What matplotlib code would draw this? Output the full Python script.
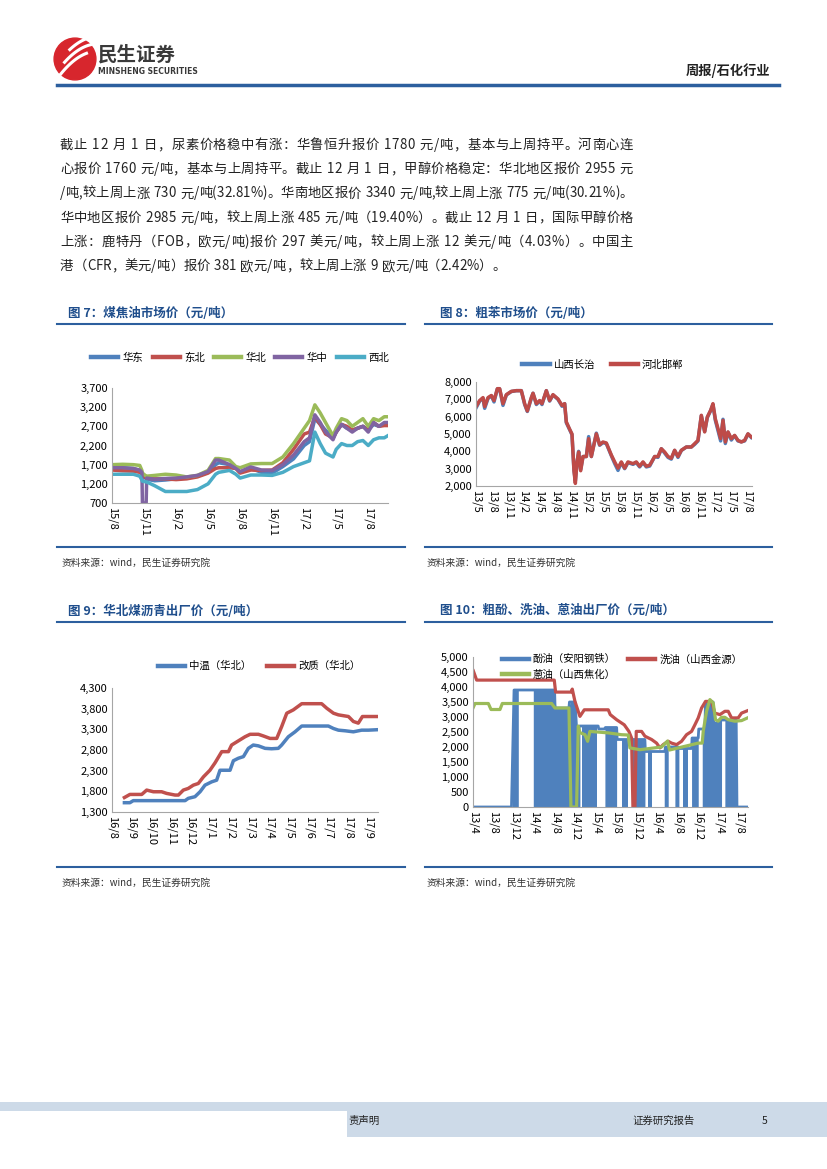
import numpy as np
import matplotlib.pyplot as plt
from matplotlib.patches import Rectangle, Circle
from matplotlib.lines import Line2D
from matplotlib.ticker import FuncFormatter

plt.rcParams['font.family'] = ['Noto Sans CJK SC', 'DejaVu Sans']

# ---------------- data ----------------
# chart 7: coal tar prices, x = months since 2015-08
t7 = [0, 1, 2, 2.6, 2.8, 2.85, 3.2, 3.25, 4, 5, 6, 7, 8, 9, 9.7, 10, 11, 11.6, 12, 13, 14, 15, 16, 17,
      18, 18.5, 19, 19.5, 20, 20.7, 21, 21.5, 22, 22.5, 23, 23.5, 24, 24.5, 25, 25.5, 25.8]
huadong = [1620, 1620, 1600, 1550, 1480, 1420, 1330, 1320, 1280, 1300, 1330, 1360, 1400, 1500, 1700, 1750, 1700,
           1620, 1500, 1600, 1500, 1480, 1650, 1850, 2200, 2300, 2900, 2750, 2600, 2400, 2550, 2750, 2650, 2600,
           2650, 2700, 2600, 2750, 2700, 2750, 2750]
dongbei = [1560, 1540, 1530, 1500, 1450, 1400, 1360, 1350, 1330, 1330, 1310, 1330, 1380, 1480, 1600, 1620, 1620,
           1600, 1480, 1560, 1550, 1560, 1750, 2100, 2500, 2550, 2950, 2750, 2500, 2400, 2550, 2750, 2700, 2600,
           2650, 2700, 2600, 2800, 2700, 2720, 2720]
huabei = [1700, 1710, 1700, 1680, 1550, 1480, 1400, 1400, 1420, 1450, 1430, 1380, 1420, 1550, 1860, 1860, 1820,
          1650, 1620, 1720, 1730, 1730, 1900, 2250, 2650, 2850, 3260, 3050, 2800, 2450, 2650, 2900, 2850, 2700,
          2800, 2900, 2700, 2900, 2850, 2950, 2950]
huazhong = [1620, 1620, 1600, 1560, 1500, 700, 700, 1350, 1320, 1340, 1350, 1380, 1420, 1520, 1820, 1820, 1700,
            1600, 1520, 1640, 1560, 1550, 1700, 1950, 2300, 2400, 3000, 2800, 2550, 2350, 2550, 2750, 2650, 2550,
            2650, 2700, 2550, 2800, 2700, 2800, 2800]
xibei = [1450, 1450, 1450, 1400, 1300, 1270, 1250, 1250, 1150, 1000, 1000, 1000, 1050, 1200, 1450, 1500, 1550,
         1450, 1350, 1430, 1430, 1420, 1500, 1650, 1750, 1800, 2550, 2250, 2000, 1900, 2100, 2250, 2200, 2200,
         2300, 2330, 2200, 2350, 2400, 2400, 2450]
ticks7 = [0, 3, 6, 9, 12, 15, 18, 21, 24]
labels7 = ['15/8', '15/11', '16/2', '16/5', '16/8', '16/11', '17/2', '17/5', '17/8']

# chart 8: crude benzene, x = months since 2013-05
t8 = [0, 0.69, 1.32, 1.63, 2.26, 2.89, 3.39, 4.02, 4.45, 5.08, 5.71, 6.65, 7.59, 8.53, 9.16, 9.66, 10.41,
      10.73, 11.36, 11.98, 12.42, 13.24, 13.86, 14.49, 15.43, 16.19, 16.69, 17.0, 17.63, 18.07, 18.44, 18.7,
      19.01, 19.32, 19.7, 20.14, 20.77, 21.2, 21.71, 22.65, 23.27, 23.9, 24.53, 25.47, 26.1, 26.73, 27.35,
      27.98, 28.61, 29.55, 30.18, 30.8, 31.43, 32.06, 32.69, 33.63, 34.25, 34.88, 35.51, 36.14, 36.76, 37.39,
      38.02, 38.65, 39.59, 40.53, 41.15, 41.78, 42.41, 43.04, 43.54, 44.17, 44.6, 45.04, 45.55, 46.05, 46.49,
      46.93, 47.43, 48.06, 48.68, 49.31, 49.94, 50.56, 51.19, 51.82]
hebei_handan = [6580, 6930, 7100, 6580, 7100, 7220, 6930, 7615, 7615, 6750, 7270, 7460, 7500, 7500, 6750, 6330,
                7100, 7350, 6750, 6930, 6750, 7500, 6930, 7270, 7020, 6650, 6750, 5700, 5270, 5000, 2880, 2150,
                3390, 3960, 2880, 3700, 3700, 4730, 3700, 5010, 4380, 4540, 4480, 3790, 3390, 3030, 3390, 3030,
                3390, 3290, 3390, 3140, 3390, 3140, 3200, 3700, 3700, 4150, 3960, 3700, 3600, 4060, 3700, 4060,
                4250, 4250, 4440, 4630, 6080, 5120, 5980, 6370, 6750, 5880, 5310, 4730, 5790, 4540, 5120, 4730,
                4920, 4630, 4540, 4630, 5010, 4830]
shanxi_changzhi = [6500, 6900, 7050, 6480, 7050, 7200, 6850, 7600, 7600, 6650, 7250, 7450, 7500, 7500, 6700, 6300,
                   7050, 7350, 6700, 6900, 6700, 7500, 6900, 7250, 7000, 6600, 6750, 5650, 5250, 4950, 2900, 2300,
                   3350, 4000, 2950, 3700, 3700, 4850, 3700, 5050, 4350, 4500, 4450, 3750, 3300, 2900, 3350, 3000,
                   3350, 3250, 3350, 3100, 3350, 3100, 3150, 3700, 3650, 4150, 3900, 3650, 3550, 4050, 3650, 4050,
                   4250, 4250, 4400, 4600, 6050, 5150, 5950, 6350, 6700, 5800, 5200, 4600, 5850, 4450, 5100, 4650,
                   4900, 4600, 4550, 4600, 5000, 4800]
ticks8 = [0, 3, 6, 9, 12, 15, 18, 21, 24, 27, 30, 33, 36, 39, 42, 45, 48, 51]
labels8 = ['13/5', '13/8', '13/11', '14/2', '14/5', '14/8', '14/11', '15/2', '15/5', '15/8', '15/11',
           '16/2', '16/5', '16/8', '16/11', '17/2', '17/5', '17/8']

# chart 9: coal pitch (north China), x = months since 2016-08
t9_mid = [0.63, 0.91, 1.08, 1.34, 3.71, 3.87, 4.21, 4.47, 4.72, 5.06, 5.31, 5.48, 5.99, 6.16, 6.41, 6.67, 6.92,
          7.17, 7.43, 7.77, 8.10, 8.44, 8.61, 8.95, 9.29, 9.63, 9.97, 10.98, 11.24, 11.49, 11.83, 12.25, 12.67,
          13.01, 13.43]
zhongwen = [1525, 1525, 1575, 1575, 1575, 1630, 1670, 1790, 1950, 2030, 2070, 2310, 2310, 2540, 2600, 2640, 2840,
            2920, 2900, 2840, 2830, 2840, 2920, 3120, 3240, 3380, 3380, 3380, 3320, 3280, 3265, 3240, 3280, 3280,
            3290]
t9_mod = [0.63, 0.91, 1.51, 1.76, 2.10, 2.52, 2.77, 3.20, 3.37, 3.62, 3.87, 4.13, 4.38, 4.64, 4.97, 5.23, 5.57,
          5.91, 6.07, 6.41, 6.75, 7.01, 7.43, 7.68, 8.02, 8.36, 8.61, 8.87, 9.20, 9.63, 10.64, 10.90, 11.24,
          11.49, 12.00, 12.25, 12.50, 12.71, 13.43]
gaizhi = [1650, 1725, 1725, 1830, 1790, 1790, 1750, 1710, 1710, 1830, 1870, 1950, 1990, 2150, 2310, 2490, 2760,
          2760, 2920, 3020, 3120, 3180, 3180, 3140, 3080, 3080, 3365, 3690, 3770, 3920, 3920, 3810, 3690, 3650,
          3610, 3490, 3450, 3610, 3610]
ticks9 = list(range(14))
labels9 = ['16/8', '16/9', '16/10', '16/11', '16/12', '17/1', '17/2', '17/3', '17/4', '17/5', '17/6', '17/7',
           '17/8', '17/9']

# chart 10: x = months since 2013-04
t10_phenol = [0, 7.5, 8.0, 15.9, 16.0, 18.7, 18.8, 19.9, 20.2, 20.8, 24.4, 24.5, 25.7, 25.8, 28.0, 28.1, 33.5,
              33.6, 37.4, 37.5, 40.0, 40.1, 42.6, 42.7, 43.9, 44.0, 45.2, 45.3, 46.2, 46.8, 46.9, 47.8, 47.9,
              51.3, 51.45, 53.5]
phenol_oil = [0, 0, 3900, 3900, 3300, 3300, 3500, 3500, 2600, 2700, 2700, 2600, 2600, 2650, 2650, 2250, 2250,
              1850, 1850, 2000, 2000, 1950, 1950, 2300, 2300, 2600, 2600, 3400, 3500, 3500, 2800, 2800, 2900,
              2900, 0, 0]
# stretches where the phenol-oil series keeps dropping to 0 (drawn as solid area)
phenol_zero_runs = [(7.66, 8.83), (11.75, 20.84), (21.3, 24.09), (25.71, 27.99), (28.96, 30.26), (30.91, 33.51),
                    (34.03, 34.81), (37.27, 38.05), (39.35, 40.13), (40.97, 41.82), (42.6, 43.9),
                    (44.68, 48.44), (49.09, 51.36)]
t10_wash = [0.06, 0.71, 15.84, 16.10, 19.09, 19.35, 19.87, 20.84, 21.69, 26.36, 26.75, 27.99, 29.48, 30.39,
            30.91, 31.17, 31.56, 31.82, 32.86, 33.51, 34.81, 35.78, 36.43, 37.08, 38.05, 38.70, 39.68, 40.65,
            41.62, 42.60, 43.25, 43.90, 44.55, 45.32, 46.49, 47.14, 48.12, 49.09, 49.74, 50.39, 51.69, 52.34,
            53.51]
wash_oil = [4540, 4230, 4230, 3830, 3830, 3930, 3520, 3020, 3240, 3240, 3080, 2910, 2740, 2520, 2300, 0, 0, 2520,
            2520, 2360, 2250, 2130, 1970, 2080, 2190, 2130, 2080, 2190, 2410, 2520, 2740, 2970, 3300, 3520, 3520,
            3130, 3080, 3190, 3190, 2970, 2970, 3130, 3210]
t10_anth = [0, 0.39, 2.99, 3.51, 5.26, 5.71, 15.32, 15.97, 18.70, 19.09, 20.19, 20.52, 20.84, 21.82, 22.34,
            22.79, 26.36, 28.96, 30.26, 30.58, 32.53, 36.75, 37.92, 38.31, 43.90, 44.68, 44.87, 45.52, 46.17,
            46.82, 47.27, 47.79, 48.44, 49.09, 49.74, 51.04, 52.34, 53.51]
anthracene_oil = [3300, 3450, 3450, 3250, 3250, 3450, 3450, 3300, 3300, 0, 0, 2700, 2480, 2410, 2190, 2520, 2470,
                  2410, 2400, 1970, 1910, 2000, 2200, 1900, 2130, 2130, 2520, 3190, 3580, 3470, 2910, 2860, 2990,
                  2990, 2910, 2860, 2880, 2970]
ticks10 = list(range(0, 53, 4))
labels10 = ['13/4', '13/8', '13/12', '14/4', '14/8', '14/12', '15/4', '15/8', '15/12', '16/4', '16/8',
            '16/12', '17/4', '17/8']

paragraph = [
    '截止 12 月 1 日，尿素价格稳中有涨：华鲁恒升报价 1780 元/吨，基本与上周持平。河南心连',
    '心报价 1760 元/吨，基本与上周持平。截止 12 月 1 日，甲醇价格稳定：华北地区报价 2955 元',
    '/吨,较上周上涨 730 元/吨(32.81%)。华南地区报价 3340 元/吨,较上周上涨 775 元/吨(30.21%)。',
    '华中地区报价 2985 元/吨，较上周上涨 485 元/吨（19.40%）。截止 12 月 1 日，国际甲醇价格',
    '上涨：鹿特丹（FOB，欧元/吨)报价 297 美元/吨，较上周上涨 12 美元/吨（4.03%）。中国主',
    '港（CFR，美元/吨）报价 381 欧元/吨，较上周上涨 9 欧元/吨（2.42%）。',
]

# ---------------- page ----------------
W, H = 827, 1169
fig = plt.figure(figsize=(W / 100, H / 100), dpi=100)
renderer = fig.canvas.get_renderer()
BLUE_LINE = '#2C5F9E'
TITLE_C = '#1F4E8C'
C_BLUE, C_RED, C_GREEN, C_PURPLE, C_CYAN = '#4F81BD', '#C0504D', '#9BBB59', '#8064A2', '#4BACC6'


def fx(x):
    return x / W


def fy(y):
    return 1 - y / H


def hline(x0, x1, y, color=BLUE_LINE, lw=1.5):
    fig.add_artist(Line2D([fx(x0), fx(x1)], [fy(y), fy(y)], color=color, lw=lw))


def px_axes(x0, y0, x1, y1):
    return fig.add_axes([x0 / W, 1 - y1 / H, (x1 - x0) / W, (y1 - y0) / H])


def justified(line, x0, x1, y, size, last=False):
    # measure each character, then spread the leftover room between them
    widths = []
    for ch in line:
        t = fig.text(0, 0, ch if ch != ' ' else 'a', fontsize=size)
        w = t.get_window_extent(renderer).width
        if ch == ' ':
            w *= 0.55
        widths.append(w)
        t.remove()
    gap = 0 if last else max(0, (x1 - x0 - sum(widths)) / (len(line) - 1))
    x = x0
    for ch, w in zip(line, widths):
        if ch != ' ':
            fig.text(fx(x), fy(y), ch, fontsize=size, color='#222222', va='baseline')
        x += w + gap


def style(ax, xlim, ylim, yticks, xticks, xlabels):
    ax.set_xlim(*xlim)
    ax.set_ylim(*ylim)
    ax.set_yticks(yticks)
    ax.yaxis.set_major_formatter(FuncFormatter(lambda v, p: f'{v:,.0f}'))
    ax.set_xticks(xticks)
    ax.set_xticklabels(xlabels, rotation=-90)
    for s in ['top', 'right']:
        ax.spines[s].set_visible(False)
    for s in ['left', 'bottom']:
        ax.spines[s].set_color('#A6A6A6')
        ax.spines[s].set_linewidth(0.8)
    ax.tick_params(length=0, labelsize=8, pad=3)
    ax.patch.set_alpha(0)


# header
logo = px_axes(52, 36, 98, 82)
logo.set_xlim(-1.1, 1.1)
logo.set_ylim(-1.1, 1.1)
logo.axis('off')
logo.add_patch(Circle((0, 0), 1, color='#D7262D'))
for k in range(3):
    xs = np.linspace(-0.75 + 0.25 * k, 0.55 + 0.2 * k, 20)
    logo.plot(xs, -0.7 + 0.35 * k + 0.9 * (xs + 0.75) - 0.35 * (xs + 0.2) ** 2, color='white', lw=2.2)
fig.text(fx(98), fy(55), '民生证券', fontsize=14, fontweight='bold', color='#3A3A3A', va='center')
fig.text(fx(98), fy(72), 'MINSHENG SECURITIES', fontsize=5.5, fontweight='bold', color='#3A3A3A',
         va='center', family='DejaVu Sans')
fig.text(fx(770), fy(71), '周报/石化行业', fontsize=9.5, fontweight='bold', color='#222222', va='center',
         ha='right')
hline(57, 779, 85, lw=2.5)

# paragraph
for i, line in enumerate(paragraph):
    justified(line, 60, 633, 149 + 24.2 * i, 9.6, last=(i == len(paragraph) - 1))

# section titles and rules
fig.text(fx(68), fy(313), '图 7：煤焦油市场价（元/吨）', fontsize=9, fontweight='bold', color=TITLE_C, va='center')
fig.text(fx(440), fy(313), '图 8：粗苯市场价（元/吨）', fontsize=9, fontweight='bold', color=TITLE_C, va='center')
fig.text(fx(68), fy(611), '图 9：华北煤沥青出厂价（元/吨）', fontsize=9, fontweight='bold', color=TITLE_C,
         va='center')
fig.text(fx(440), fy(611), '图 10：粗酚、洗油、蒽油出厂价（元/吨）', fontsize=9, fontweight='bold', color=TITLE_C,
         va='center')
for y in [324, 547, 622, 867]:
    hline(57, 405, y)
    hline(425, 772, y)
for y in [563, 883]:
    fig.text(fx(62), fy(y), '资料来源：wind，民生证券研究院', fontsize=7, color='#333333', va='center')
    fig.text(fx(427), fy(y), '资料来源：wind，民生证券研究院', fontsize=7, color='#333333', va='center')

leg_kw = dict(bbox_transform=fig.transFigure, frameon=False, fontsize=7.5, handlelength=2.6,
              handletextpad=0.4)

# chart 7
ax7 = px_axes(112, 388, 388, 503)
for ys, c, lab in [(huadong, C_BLUE, '华东'), (dongbei, C_RED, '东北'), (huabei, C_GREEN, '华北'),
                   (huazhong, C_PURPLE, '华中'), (xibei, C_CYAN, '西北')]:
    ax7.plot(t7, ys, color=c, lw=2.5, label=lab)
style(ax7, (0, 25.85), (700, 3700), range(700, 3701, 500), ticks7, labels7)
lg = ax7.legend(loc='center', bbox_to_anchor=(fx(240), fy(358)), ncol=5, columnspacing=0.9, **leg_kw)
for h in lg.get_lines():
    h.set_linewidth(3.2)

# chart 8
ax8 = px_axes(476, 382, 752, 486)
ax8.plot(t8, shanxi_changzhi, color=C_BLUE, lw=2.5, label='山西长治')
ax8.plot(t8, hebei_handan, color='#BE4B48', lw=2.5, label='河北邯郸')
style(ax8, (0, 51.95), (2000, 8000), range(2000, 8001, 1000), ticks8, labels8)
lg = ax8.legend(loc='center', bbox_to_anchor=(fx(603), fy(365)), ncol=2, columnspacing=1.5, **leg_kw)
for h in lg.get_lines():
    h.set_linewidth(3.2)

# chart 9
ax9 = px_axes(112, 688, 378, 812)
ax9.plot(t9_mid, zhongwen, color=C_BLUE, lw=2.5, label='中温（华北）')
ax9.plot(t9_mod, gaizhi, color=C_RED, lw=2.5, label='改质（华北）')
style(ax9, (0, 13.5), (1300, 4300), range(1300, 4301, 500), ticks9, labels9)
lg = ax9.legend(loc='center', bbox_to_anchor=(fx(259), fy(666)), ncol=2, columnspacing=1.5, **leg_kw)
for h in lg.get_lines():
    h.set_linewidth(3.2)

# chart 10
ax10 = px_axes(473, 657, 748, 807)
l_ph, = ax10.plot(t10_phenol, phenol_oil, color=C_BLUE, lw=2.0, label='酚油（安阳钢铁）')
for s, e in phenol_zero_runs:
    xs = np.linspace(s, e, 40)
    ax10.fill_between(xs, 0, np.interp(xs, t10_phenol, phenol_oil), color=C_BLUE, lw=0)
l_wa, = ax10.plot(t10_wash, wash_oil, color=C_RED, lw=2.3, label='洗油（山西金源）')
l_an, = ax10.plot(t10_anth, anthracene_oil, color=C_GREEN, lw=2.3, label='蒽油（山西焦化）')
style(ax10, (0, 53.6), (0, 5000), range(0, 5001, 500), ticks10, labels10)
lg = ax10.legend([l_ph, l_an, l_wa], [l_ph.get_label(), l_an.get_label(), l_wa.get_label()],
                 loc='center', bbox_to_anchor=(fx(622), fy(667)), ncol=2, columnspacing=1.2,
                 labelspacing=0.5, **leg_kw)
for h in lg.get_lines():
    h.set_linewidth(3.2)

# footer
fig.add_artist(Rectangle((0, fy(1137)), 1, 35 / H, transform=fig.transFigure, color='#CDDAE8', lw=0))
fig.add_artist(Rectangle((0, fy(1140)), 347 / W, 29 / H, transform=fig.transFigure, color='white', lw=0))
fig.text(fx(348), fy(1121), '责声明', fontsize=7.5, color='#222222', va='center')
fig.text(fx(632), fy(1121), '证券研究报告', fontsize=7.5, color='#222222', va='center')
fig.text(fx(762), fy(1121), '5', fontsize=7.5, color='#222222', va='center')

fig.savefig('out.png', dpi=100)
